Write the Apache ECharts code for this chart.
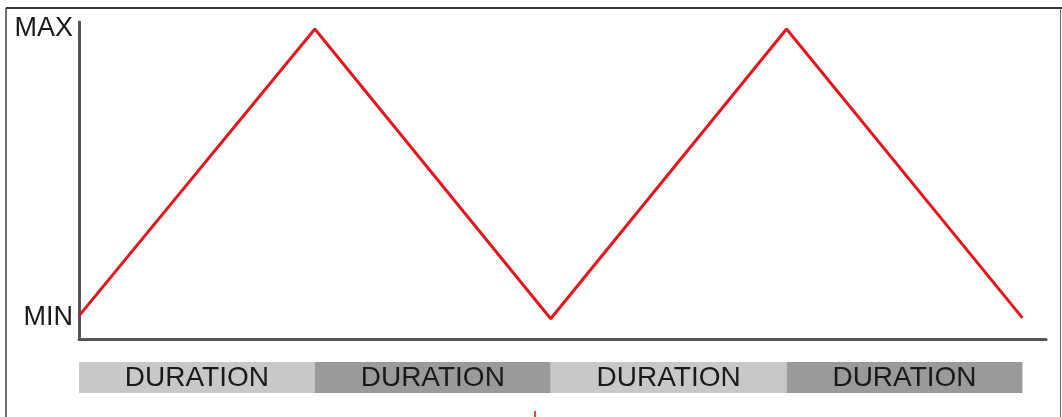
<!DOCTYPE html>
<html>
<head>
<meta charset="utf-8">
<script src="https://cdn.jsdelivr.net/npm/echarts@6/dist/echarts.min.js"></script>
<style>
html,body{margin:0;padding:0;background:#fff;}
#c{width:1062px;height:417px;}
</style>
</head>
<body>
<div id="c"></div>
<script>
// Data
const xPositions = [0, 1, 2, 3, 4];
const yValues = [0.007, 1, -0.003, 1, 0];
const yTickValues = [0, 1];
const yTickLabels = ['MIN', 'MAX'];
const durationStarts = [0, 1, 2, 3];
const durationEnds = [1, 2, 3, 4];
const durationLabels = ['DURATION', 'DURATION', 'DURATION', 'DURATION'];
const durationShades = ['light', 'dark', 'light', 'dark'];

const shadeColors = { light: '#c8c8c8', dark: '#9a9a9a' };
const FONT = '"Liberation Sans", Arial, sans-serif';

const chart = echarts.init(document.getElementById('c'), null, { renderer: 'canvas' });

const lineData = xPositions.map((x, i) => [x, yValues[i]]);
const barData = durationStarts.map((s, i) => [s, durationEnds[i], durationLabels[i], durationShades[i]]);

chart.setOption({
  animation: false,
  backgroundColor: '#fff',
  grid: [
    { left: 79, right: 16, top: 22, bottom: 78 },
    { left: 79, right: 16, top: 362, height: 31 }
  ],
  xAxis: [
    {
      type: 'value', gridIndex: 0, min: 0, max: 4.1,
      axisLine: { show: true, onZero: false, lineStyle: { color: '#555', width: 3 } },
      axisTick: { show: false }, axisLabel: { show: false }, splitLine: { show: false }
    },
    {
      type: 'value', gridIndex: 1, min: 0, max: 4.1, show: false
    }
  ],
  yAxis: [
    {
      type: 'value', gridIndex: 0, min: -0.073, max: 1.024,
      axisLine: { show: true, onZero: false, lineStyle: { color: '#555', width: 3 } },
      axisTick: { show: false },
      splitLine: { show: false },
      axisLabel: {
        show: true,
        customValues: yTickValues,
        formatter: function (v) {
          const idx = yTickValues.findIndex(t => Math.abs(t - v) < 1e-6);
          return idx >= 0 ? yTickLabels[idx] : '';
        },
        color: '#1a1a1a',
        fontFamily: FONT,
        fontSize: 27,
        margin: 6
      }
    },
    {
      type: 'value', gridIndex: 1, min: 0, max: 1, show: false
    }
  ],
  series: [
    {
      type: 'line',
      xAxisIndex: 0, yAxisIndex: 0,
      data: lineData,
      symbol: 'none',
      lineStyle: { color: '#e3161d', width: 3 },
      z: 5
    },
    {
      type: 'custom',
      xAxisIndex: 1, yAxisIndex: 1,
      data: barData,
      renderItem: function (params, api) {
        const p0 = api.coord([api.value(0), 1]);
        const p1 = api.coord([api.value(1), 0]);
        const shade = barData[params.dataIndex][3];
        const label = barData[params.dataIndex][2];
        return {
          type: 'group',
          children: [
            {
              type: 'rect',
              shape: { x: p0[0], y: p0[1], width: p1[0] - p0[0], height: p1[1] - p0[1] },
              style: { fill: shadeColors[shade] }
            },
            {
              type: 'text',
              style: {
                text: label,
                x: (p0[0] + p1[0]) / 2,
                y: (p0[1] + p1[1]) / 2 + 1,
                align: 'center',
                verticalAlign: 'middle',
                fill: '#1a1a1a',
                font: '28px ' + FONT
              }
            }
          ]
        };
      }
    }
  ],
  graphic: [
    { type: 'line', shape: { x1: 6, y1: 8, x2: 1062, y2: 8 }, style: { stroke: '#333', lineWidth: 2 } },
    { type: 'line', shape: { x1: 6, y1: 8, x2: 6, y2: 417 }, style: { stroke: '#444', lineWidth: 1.5 } },
    { type: 'line', shape: { x1: 1060.5, y1: 8, x2: 1060.5, y2: 417 }, style: { stroke: '#666', lineWidth: 1 } },
    { type: 'rect', shape: { x: 534, y: 411, width: 2, height: 6 }, style: { fill: '#e0502a' } }
  ]
});
</script>
</body>
</html>
